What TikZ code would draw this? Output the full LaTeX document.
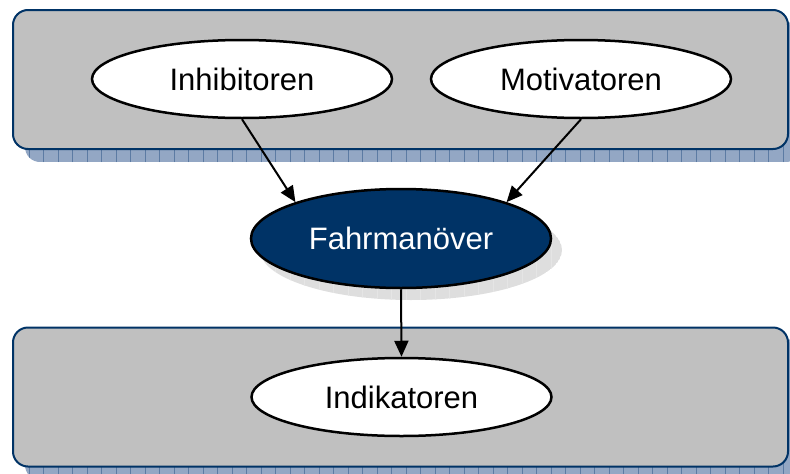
\documentclass[tikz,border=0pt]{standalone}
\usepackage{fontspec}
\setmainfont{Liberation Sans}
\usetikzlibrary{shapes.geometric,arrows.meta}
\definecolor{navy}{HTML}{003366}
\definecolor{shadowblue}{HTML}{93A7C4}
\definecolor{gridblue}{HTML}{5C7BA3}
\definecolor{boxgray}{HTML}{C0C0C0}
\definecolor{shadowgray}{HTML}{DEDEDE}
\tikzset{
  groupbox/.style={draw=navy, line width=2pt, fill=boxgray, rounded corners=15pt, minimum width=775pt, minimum height=139pt, inner sep=0pt},
  factor/.style={ellipse, draw=black, line width=2.5pt, fill=white, minimum width=300pt, minimum height=78pt, inner sep=0pt, font=\fontsize{31}{37}\selectfont},
  central/.style={ellipse, draw=black, line width=2.5pt, fill=navy, text=white, minimum width=300pt, minimum height=99pt, inner sep=0pt, font=\fontsize{31}{37}\selectfont},
  conn/.style={line width=2pt, -{Triangle[length=16pt,width=14pt]}},
}
\begin{document}
\begin{tikzpicture}[x=1pt,y=-1pt]
\useasboundingbox (0,0) rectangle (790,474);
% box shadows
\begin{scope}
  \clip[rounded corners=15pt] (25,22) rectangle (801,162);
  \fill[shadowblue] (25,22) rectangle (801,162);
  \draw[gridblue, line width=0.6pt] (25,22) grid[step=14.5] (801,162);
\end{scope}
\begin{scope}
  \clip[rounded corners=15pt] (25,339) rectangle (801,480);
  \fill[shadowblue] (25,339) rectangle (801,480);
  \draw[gridblue, line width=0.6pt] (25,339) grid[step=14.5] (801,480);
\end{scope}
% boxes
\node[groupbox] (top) at (400.5,79.5) {};
\node[groupbox] (bottom) at (400.5,397) {};
% ellipse shadow
\begin{scope}
  \clip (411,250) ellipse [x radius=151pt, y radius=50pt];
  \fill[shadowgray] (411,250) ellipse [x radius=151pt, y radius=50pt];
  \draw[white!80!gray, line width=0.5pt] (250,190) grid[step=14.5] (570,310);
\end{scope}
% nodes
\node[factor] (inh) at (242,79) {Inhibitoren};
\node[factor] (mot) at (581,79) {Motivatoren};
\node[central] (fahr) at (401,238.5) {Fahrmanöver};
\node[factor] (ind) at (401.5,397) {Indikatoren};
% connectors
\draw[conn] (inh.south) -- (fahr.161);
\draw[conn] (mot.south) -- (fahr.19);
\draw[conn] (fahr.south) -- (ind.north);
\end{tikzpicture}
\end{document}
